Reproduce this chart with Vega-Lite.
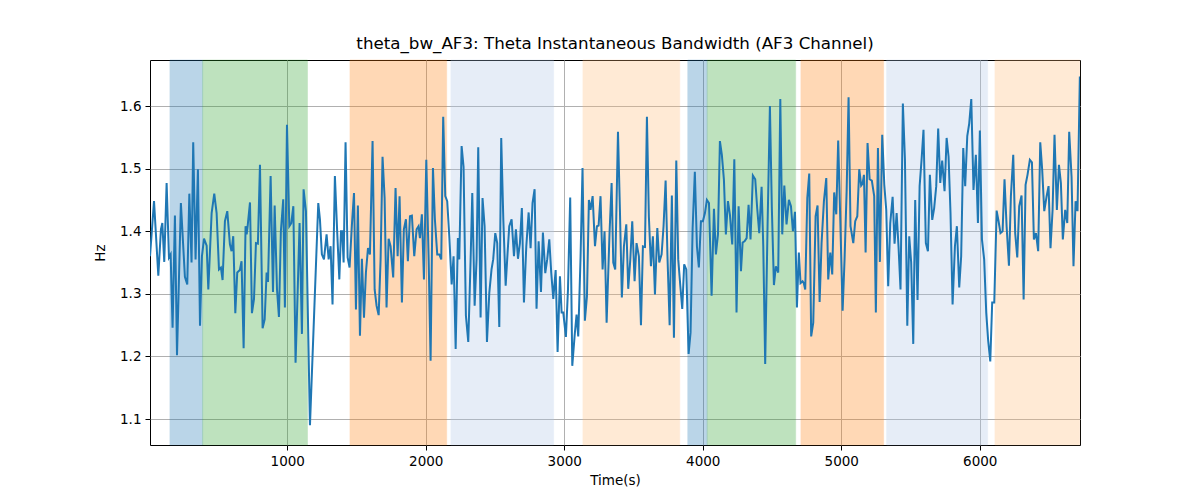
{
  "$schema": "https://vega.github.io/schema/vega-lite/v6.json",
  "autosize": "none",
  "width": 930,
  "height": 385,
  "padding": {"left": 150, "top": 60, "right": 120, "bottom": 55},
  "background": "white",
  "config": {
    "font": "DejaVu Sans",
    "view": {"stroke": "black", "strokeWidth": 1},
    "axis": {
      "grid": true,
      "gridColor": "#b0b0b0",
      "gridWidth": 1,
      "domain": false,
      "tickColor": "black",
      "tickSize": 5,
      "labelColor": "black",
      "labelFontSize": 13.5,
      "labelFont": "DejaVu Sans",
      "titleFont": "DejaVu Sans",
      "titleFontSize": 13.5,
      "titleFontWeight": "normal",
      "titleColor": "black"
    }
  },
  "title": {
    "text": "theta_bw_AF3: Theta Instantaneous Bandwidth (AF3 Channel)",
    "fontSize": 16.7,
    "fontWeight": "normal",
    "font": "DejaVu Sans",
    "color": "black",
    "offset": 7
  },
  "datasets": {
    "bands": [
      {"start": 153, "end": 389, "kind": "a"},
      {"start": 389, "end": 1146, "kind": "b"},
      {"start": 1453, "end": 2151, "kind": "c"},
      {"start": 2182, "end": 2923, "kind": "d"},
      {"start": 3135, "end": 3834, "kind": "e"},
      {"start": 3892, "end": 4032, "kind": "a"},
      {"start": 4032, "end": 4671, "kind": "b"},
      {"start": 4709, "end": 5306, "kind": "c"},
      {"start": 5328, "end": 6057, "kind": "d"},
      {"start": 6110, "end": 6723, "kind": "e"}
    ],
    "series": [
      {"t":9,"v":1.360},{"t":38,"v":1.448},{"t":69,"v":1.329},{"t":88,"v":1.403},{"t":98,"v":1.413},{"t":112,"v":1.351},{"t":129,"v":1.477},{"t":146,"v":1.358},{"t":158,"v":1.363},{"t":172,"v":1.246},{"t":189,"v":1.425},{"t":204,"v":1.202},{"t":232,"v":1.445},{"t":261,"v":1.327},{"t":278,"v":1.315},{"t":293,"v":1.460},{"t":309,"v":1.350},{"t":321,"v":1.542},{"t":338,"v":1.355},{"t":355,"v":1.499},{"t":370,"v":1.249},{"t":384,"v":1.360},{"t":399,"v":1.388},{"t":418,"v":1.377},{"t":430,"v":1.307},{"t":454,"v":1.429},{"t":473,"v":1.460},{"t":490,"v":1.429},{"t":507,"v":1.339},{"t":521,"v":1.342},{"t":533,"v":1.322},{"t":550,"v":1.416},{"t":567,"v":1.432},{"t":586,"v":1.379},{"t":598,"v":1.368},{"t":610,"v":1.392},{"t":625,"v":1.269},{"t":639,"v":1.334},{"t":658,"v":1.338},{"t":670,"v":1.352},{"t":685,"v":1.213},{"t":699,"v":1.408},{"t":707,"v":1.395},{"t":714,"v":1.408},{"t":731,"v":1.446},{"t":745,"v":1.269},{"t":760,"v":1.292},{"t":774,"v":1.381},{"t":788,"v":1.380},{"t":803,"v":1.506},{"t":822,"v":1.245},{"t":837,"v":1.259},{"t":851,"v":1.334},{"t":861,"v":1.319},{"t":880,"v":1.488},{"t":897,"v":1.303},{"t":909,"v":1.441},{"t":926,"v":1.307},{"t":940,"v":1.263},{"t":954,"v":1.400},{"t":971,"v":1.451},{"t":983,"v":1.278},{"t":998,"v":1.570},{"t":1015,"v":1.408},{"t":1029,"v":1.413},{"t":1044,"v":1.440},{"t":1060,"v":1.190},{"t":1075,"v":1.302},{"t":1089,"v":1.413},{"t":1106,"v":1.236},{"t":1118,"v":1.467},{"t":1135,"v":1.432},
      {"t":1164,"v":1.090},{"t":1224,"v":1.445},{"t":1236,"v":1.419},{"t":1250,"v":1.363},{"t":1265,"v":1.355},{"t":1284,"v":1.395},{"t":1299,"v":1.355},{"t":1313,"v":1.376},{"t":1327,"v":1.283},{"t":1344,"v":1.488},{"t":1361,"v":1.397},{"t":1376,"v":1.323},{"t":1388,"v":1.400},{"t":1397,"v":1.400},{"t":1407,"v":1.350},{"t":1421,"v":1.542},{"t":1436,"v":1.358},{"t":1450,"v":1.342},{"t":1467,"v":1.411},{"t":1482,"v":1.461},{"t":1496,"v":1.275},{"t":1510,"v":1.441},{"t":1525,"v":1.233},{"t":1539,"v":1.356},{"t":1554,"v":1.262},{"t":1568,"v":1.334},{"t":1583,"v":1.373},{"t":1597,"v":1.363},{"t":1616,"v":1.544},{"t":1631,"v":1.307},{"t":1645,"v":1.281},{"t":1660,"v":1.266},{"t":1674,"v":1.355},{"t":1688,"v":1.519},{"t":1703,"v":1.453},{"t":1717,"v":1.278},{"t":1732,"v":1.388},{"t":1746,"v":1.376},{"t":1765,"v":1.326},{"t":1782,"v":1.469},{"t":1797,"v":1.360},{"t":1811,"v":1.456},{"t":1828,"v":1.286},{"t":1842,"v":1.403},{"t":1857,"v":1.419},{"t":1871,"v":1.352},{"t":1886,"v":1.424},{"t":1900,"v":1.425},{"t":1917,"v":1.360},{"t":1934,"v":1.403},{"t":1948,"v":1.408},{"t":1958,"v":1.389},{"t":1972,"v":1.427},{"t":1987,"v":1.323},{"t":2004,"v":1.514},{"t":2021,"v":1.355},{"t":2035,"v":1.193},{"t":2052,"v":1.501},{"t":2066,"v":1.419},{"t":2083,"v":1.363},{"t":2098,"v":1.363},{"t":2112,"v":1.355},{"t":2126,"v":1.583},{"t":2141,"v":1.456},{"t":2155,"v":1.448},{"t":2170,"v":1.392},{"t":2187,"v":1.315},{"t":2201,"v":1.360},{"t":2216,"v":1.212},{"t":2232,"v":1.389},
      {"t":2242,"v":1.355},{"t":2259,"v":1.536},{"t":2273,"v":1.503},{"t":2290,"v":1.265},{"t":2307,"v":1.223},{"t":2324,"v":1.355},{"t":2336,"v":1.461},{"t":2353,"v":1.281},{"t":2367,"v":1.355},{"t":2379,"v":1.534},{"t":2396,"v":1.262},{"t":2410,"v":1.453},{"t":2425,"v":1.408},{"t":2442,"v":1.223},{"t":2459,"v":1.302},{"t":2475,"v":1.339},{"t":2487,"v":1.355},{"t":2502,"v":1.397},{"t":2516,"v":1.381},{"t":2531,"v":1.247},{"t":2545,"v":1.549},{"t":2560,"v":1.419},{"t":2577,"v":1.313},{"t":2591,"v":1.366},{"t":2603,"v":1.408},{"t":2620,"v":1.419},{"t":2637,"v":1.360},{"t":2651,"v":1.403},{"t":2666,"v":1.356},{"t":2680,"v":1.381},{"t":2694,"v":1.437},{"t":2709,"v":1.286},{"t":2726,"v":1.376},{"t":2743,"v":1.430},{"t":2757,"v":1.373},{"t":2771,"v":1.445},{"t":2786,"v":1.467},{"t":2800,"v":1.276},{"t":2815,"v":1.384},{"t":2832,"v":1.303},{"t":2846,"v":1.398},{"t":2863,"v":1.333},{"t":2877,"v":1.355},{"t":2892,"v":1.387},{"t":2906,"v":1.334},{"t":2921,"v":1.292},{"t":2938,"v":1.338},{"t":2952,"v":1.207},{"t":2969,"v":1.328},{"t":2981,"v":1.270},{"t":2993,"v":1.270},{"t":3012,"v":1.231},{"t":3027,"v":1.307},{"t":3043,"v":1.454},{"t":3058,"v":1.185},{"t":3075,"v":1.233},{"t":3089,"v":1.267},{"t":3101,"v":1.232},{"t":3118,"v":1.360},{"t":3132,"v":1.501},{"t":3149,"v":1.257},{"t":3164,"v":1.296},{"t":3178,"v":1.450},{"t":3190,"v":1.434},{"t":3205,"v":1.456},{"t":3222,"v":1.376},{"t":3236,"v":1.408},{"t":3248,"v":1.409},{"t":3262,"v":1.456},{"t":3277,"v":1.339},{"t":3291,"v":1.400},{"t":3306,"v":1.254},
      {"t":3327,"v":1.397},{"t":3342,"v":1.477},{"t":3354,"v":1.350},{"t":3368,"v":1.339},{"t":3388,"v":1.559},{"t":3402,"v":1.434},{"t":3416,"v":1.294},{"t":3431,"v":1.376},{"t":3448,"v":1.411},{"t":3462,"v":1.308},{"t":3477,"v":1.355},{"t":3491,"v":1.416},{"t":3508,"v":1.320},{"t":3522,"v":1.381},{"t":3539,"v":1.360},{"t":3554,"v":1.250},{"t":3568,"v":1.376},{"t":3583,"v":1.375},{"t":3597,"v":1.583},{"t":3611,"v":1.424},{"t":3626,"v":1.344},{"t":3640,"v":1.392},{"t":3655,"v":1.299},{"t":3672,"v":1.405},{"t":3686,"v":1.350},{"t":3703,"v":1.363},{"t":3717,"v":1.408},{"t":3732,"v":1.481},{"t":3746,"v":1.355},{"t":3761,"v":1.250},{"t":3777,"v":1.457},{"t":3792,"v":1.230},{"t":3809,"v":1.513},{"t":3823,"v":1.355},{"t":3838,"v":1.313},{"t":3852,"v":1.276},{"t":3866,"v":1.347},{"t":3881,"v":1.339},{"t":3898,"v":1.204},{"t":3912,"v":1.238},{"t":3927,"v":1.405},{"t":3943,"v":1.495},{"t":3958,"v":1.376},{"t":3972,"v":1.342},{"t":3987,"v":1.416},{"t":4001,"v":1.416},{"t":4016,"v":1.429},{"t":4030,"v":1.450},{"t":4045,"v":1.445},{"t":4064,"v":1.297},{"t":4081,"v":1.436},{"t":4095,"v":1.363},{"t":4110,"v":1.395},{"t":4124,"v":1.544},{"t":4138,"v":1.522},{"t":4153,"v":1.482},{"t":4167,"v":1.395},{"t":4182,"v":1.448},{"t":4196,"v":1.427},{"t":4213,"v":1.379},{"t":4228,"v":1.515},{"t":4244,"v":1.270},{"t":4259,"v":1.440},{"t":4276,"v":1.336},{"t":4288,"v":1.382},{"t":4302,"v":1.384},{"t":4317,"v":1.389},{"t":4331,"v":1.442},{"t":4345,"v":1.387},{"t":4362,"v":1.489},{"t":4379,"v":1.483},{"t":4393,"v":1.437},{"t":4408,"v":1.397},
      {"t":4425,"v":1.471},{"t":4437,"v":1.376},{"t":4451,"v":1.188},{"t":4468,"v":1.408},{"t":4485,"v":1.600},{"t":4499,"v":1.437},{"t":4514,"v":1.314},{"t":4528,"v":1.344},{"t":4545,"v":1.334},{"t":4560,"v":1.611},{"t":4574,"v":1.395},{"t":4589,"v":1.473},{"t":4605,"v":1.411},{"t":4622,"v":1.450},{"t":4637,"v":1.440},{"t":4651,"v":1.400},{"t":4666,"v":1.431},{"t":4680,"v":1.278},{"t":4694,"v":1.366},{"t":4706,"v":1.317},{"t":4721,"v":1.320},{"t":4730,"v":1.317},{"t":4740,"v":1.307},{"t":4755,"v":1.453},{"t":4769,"v":1.492},{"t":4783,"v":1.232},{"t":4798,"v":1.254},{"t":4815,"v":1.424},{"t":4829,"v":1.441},{"t":4844,"v":1.287},{"t":4858,"v":1.381},{"t":4875,"v":1.448},{"t":4892,"v":1.485},{"t":4906,"v":1.323},{"t":4921,"v":1.366},{"t":4935,"v":1.331},{"t":4949,"v":1.462},{"t":4964,"v":1.427},{"t":4978,"v":1.545},{"t":4993,"v":1.419},{"t":5010,"v":1.273},{"t":5024,"v":1.355},{"t":5039,"v":1.464},{"t":5053,"v":1.614},{"t":5067,"v":1.408},{"t":5087,"v":1.381},{"t":5101,"v":1.416},{"t":5116,"v":1.424},{"t":5130,"v":1.499},{"t":5144,"v":1.473},{"t":5154,"v":1.476},{"t":5164,"v":1.490},{"t":5176,"v":1.366},{"t":5190,"v":1.541},{"t":5205,"v":1.483},{"t":5221,"v":1.481},{"t":5238,"v":1.456},{"t":5250,"v":1.270},{"t":5265,"v":1.533},{"t":5279,"v":1.351},{"t":5296,"v":1.554},{"t":5311,"v":1.474},{"t":5325,"v":1.434},{"t":5339,"v":1.312},{"t":5354,"v":1.413},{"t":5371,"v":1.455},{"t":5385,"v":1.380},{"t":5400,"v":1.429},{"t":5414,"v":1.374},{"t":5428,"v":1.307},{"t":5445,"v":1.604},{"t":5460,"v":1.515},{"t":5477,"v":1.249},{"t":5491,"v":1.392},
      {"t":5505,"v":1.350},{"t":5520,"v":1.220},{"t":5534,"v":1.450},{"t":5551,"v":1.290},{"t":5566,"v":1.472},{"t":5580,"v":1.514},{"t":5594,"v":1.562},{"t":5611,"v":1.381},{"t":5626,"v":1.368},{"t":5640,"v":1.490},{"t":5657,"v":1.418},{"t":5671,"v":1.437},{"t":5686,"v":1.472},{"t":5700,"v":1.564},{"t":5715,"v":1.477},{"t":5729,"v":1.513},{"t":5746,"v":1.464},{"t":5761,"v":1.549},{"t":5775,"v":1.519},{"t":5789,"v":1.429},{"t":5804,"v":1.283},{"t":5821,"v":1.376},{"t":5835,"v":1.408},{"t":5852,"v":1.310},{"t":5866,"v":1.360},{"t":5881,"v":1.533},{"t":5895,"v":1.472},{"t":5910,"v":1.552},{"t":5924,"v":1.572},{"t":5939,"v":1.611},{"t":5955,"v":1.466},{"t":5972,"v":1.522},{"t":5987,"v":1.413},{"t":6001,"v":1.561},{"t":6016,"v":1.387},{"t":6032,"v":1.355},{"t":6047,"v":1.270},{"t":6061,"v":1.225},{"t":6076,"v":1.192},{"t":6090,"v":1.286},{"t":6105,"v":1.286},{"t":6122,"v":1.433},{"t":6136,"v":1.416},{"t":6150,"v":1.397},{"t":6165,"v":1.400},{"t":6179,"v":1.483},{"t":6194,"v":1.408},{"t":6211,"v":1.345},{"t":6225,"v":1.456},{"t":6242,"v":1.522},{"t":6256,"v":1.397},{"t":6271,"v":1.358},{"t":6285,"v":1.440},{"t":6302,"v":1.457},{"t":6317,"v":1.291},{"t":6331,"v":1.474},{"t":6345,"v":1.490},{"t":6362,"v":1.514},{"t":6377,"v":1.510},{"t":6391,"v":1.387},{"t":6406,"v":1.397},{"t":6422,"v":1.368},{"t":6437,"v":1.542},{"t":6451,"v":1.498},{"t":6466,"v":1.432},{"t":6483,"v":1.456},{"t":6497,"v":1.472},{"t":6511,"v":1.373},{"t":6526,"v":1.434},{"t":6540,"v":1.554},{"t":6557,"v":1.434},{"t":6572,"v":1.506},{"t":6586,"v":1.477},{"t":6600,"v":1.387},{"t":6617,"v":1.434},{"t":6632,"v":1.413},{"t":6646,"v":1.559},{"t":6663,"v":1.487},{"t":6677,"v":1.344},{"t":6692,"v":1.448},{"t":6706,"v":1.432},{"t":6723,"v":1.647}
    ]
  },
  "layer": [
    {
      "data": {"name": "bands"},
      "mark": {"type": "rect", "opacity": 0.3, "strokeWidth": 1, "strokeOpacity": 0.6},
      "encoding": {
        "x": {"field": "start", "type": "quantitative", "scale": {"domain": [9, 6724], "nice": false, "zero": false},
              "axis": {"title": "Time(s)", "values": [1000, 2000, 3000, 4000, 5000, 6000], "format": "d", "labelPadding": 4, "titlePadding": 6}},
        "x2": {"field": "end"},
        "color": {"field": "kind", "type": "nominal", "legend": null,
                  "scale": {"domain": ["a", "b", "c", "d", "e"], "range": ["#1f77b4", "#2ca02c", "#ff7f0e", "#aec7e8", "#ffbb78"]}},
        "stroke": {"field": "kind", "type": "nominal", "legend": null,
                   "scale": {"domain": ["a", "b", "c", "d", "e"], "range": ["#1f77b4", "#2ca02c", "#ff7f0e", "#aec7e8", "#ffbb78"]}}
      }
    },
    {
      "data": {"name": "series"},
      "mark": {"type": "line", "color": "#1f77b4", "strokeWidth": 2, "clip": true},
      "encoding": {
        "x": {"field": "t", "type": "quantitative"},
        "y": {"field": "v", "type": "quantitative", "scale": {"domain": [1.0585, 1.6735], "nice": false, "zero": false},
              "axis": {"title": "Hz", "values": [1.1, 1.2, 1.3, 1.4, 1.5, 1.6], "format": ".1f", "labelPadding": 4, "titlePadding": 12}}
      }
    }
  ]
}
